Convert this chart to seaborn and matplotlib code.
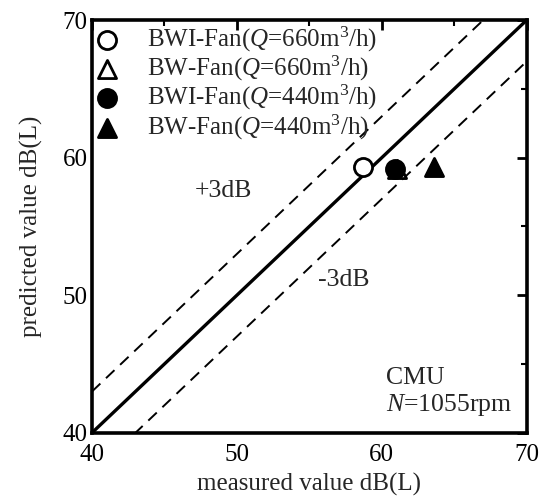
import matplotlib
matplotlib.use("Agg")
import matplotlib.pyplot as plt
import seaborn as sns
import pandas as pd
import numpy as np

labels = [r"BWI-Fan($\mathit{Q}$=660m$^3$/h)",
          r"BW-Fan($\mathit{Q}$=660m$^3$/h)",
          r"BWI-Fan($\mathit{Q}$=440m$^3$/h)",
          r"BW-Fan($\mathit{Q}$=440m$^3$/h)"]
measured = [58.7, 61.05, 60.9, 63.6]
predicted = [59.3, 59.15, 59.2, 59.3]
markers = ["o", "^", "o", "^"]
facecolors = ["white", "white", "black", "black"]
ref_x = [40, 70]

sns.set_theme(style="white")
plt.rcParams['font.family'] = ['Liberation Serif', 'DejaVu Serif']
plt.rcParams['mathtext.fontset'] = 'custom'
plt.rcParams['mathtext.rm'] = 'Liberation Serif'
plt.rcParams['mathtext.it'] = 'Liberation Serif:italic'

FS = 18.5

fig = plt.figure(figsize=(5.47, 5.01), dpi=100)
ax = fig.add_axes([0.168, 0.136, 0.795, 0.824])

lines = pd.DataFrame({"x": ref_x, "y": ref_x})
sns.lineplot(x=lines["x"], y=lines["y"], ax=ax, color="black", lw=2.4)
sns.lineplot(x=lines["x"], y=lines["y"] + 3, ax=ax, color="black", lw=1.4, linestyle=(0, (6, 4)))
sns.lineplot(x=lines["x"], y=lines["y"] - 3, ax=ax, color="black", lw=1.4, linestyle=(0, (6, 4)))

zorders = [5, 5, 6, 5]
for i in range(4):
    sns.scatterplot(x=[measured[i]], y=[predicted[i]], ax=ax, marker=markers[i],
                    s=170, facecolor=facecolors[i], edgecolor="black", linewidth=2,
                    label=labels[i], zorder=zorders[i])

ax.set_xlim(40, 70)
ax.set_ylim(40, 70)
ax.set_xticks([40, 50, 60, 70])
ax.set_yticks([40, 50, 60, 70])
ax.set_xticks([45, 55, 65], minor=True)
ax.set_yticks([45, 55, 65], minor=True)
ax.tick_params(which="both", direction="in", top=True, right=True, colors="black",
               labelsize=18)
ax.tick_params(axis="x", which="major", pad=8)
ax.tick_params(axis="y", which="major", pad=3)
ax.tick_params(which="major", length=7, width=2)
ax.tick_params(which="minor", length=4, width=1.5)
for s in ax.spines.values():
    s.set_color("black")
    s.set_linewidth(2.6)

ax.set_xlabel("measured value dB(L)", fontsize=18, labelpad=5)
ax.set_ylabel("predicted value dB(L)", fontsize=18, labelpad=14)

ax.text(49.1, 57.6, "+3dB", fontsize=FS, ha="center", va="center")
ax.text(57.4, 51.1, "-3dB", fontsize=FS, ha="center", va="center")
ax.text(60.3, 44.0, "CMU", fontsize=FS, ha="left", va="center")
ax.text(60.3, 42.0, r"$\mathit{N}$=1055rpm", fontsize=FS, ha="left", va="center")

leg = ax.legend(loc="upper left", fontsize=18, frameon=False, handletextpad=1.2,
                labelspacing=0.0, borderaxespad=0.0, handlelength=0.8,
                borderpad=0.2)

fig.savefig("out.png", dpi=100)
